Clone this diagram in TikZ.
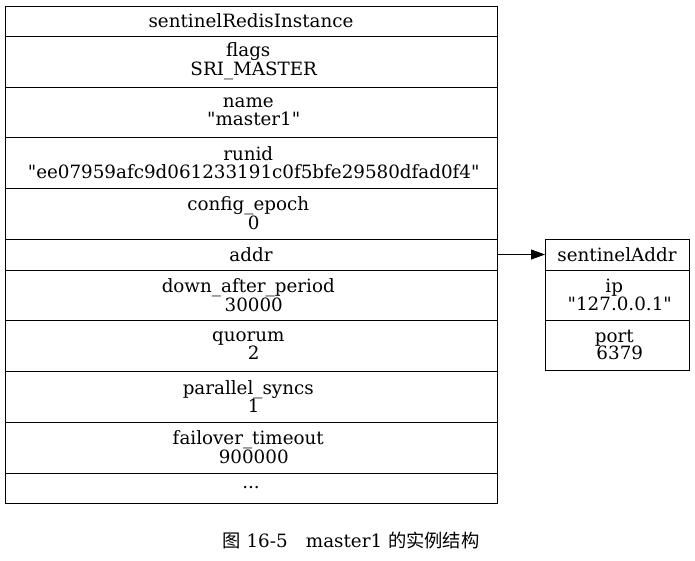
\documentclass[tikz,border=0pt]{standalone}
\usepackage{fontspec}
\setmainfont{DejaVu Serif}
\newfontfamily\cjk{Noto Sans CJK SC}
\usetikzlibrary{arrows.meta}
\newcommand\cellpair[2]{#1\kern5.5pt\\\kern5.5pt #2}
\newcommand\dq{\textquotedbl}
\tikzset{
  cell/.style={draw=black, line width=0.8pt, inner sep=0pt, outer sep=0pt, align=center,
    font=\fontsize{18.3}{17.6}\selectfont},
  lt/.style={cell, minimum width=492pt},
  rt/.style={cell, minimum width=144pt},
  link/.style={draw=black, line width=0.8pt, -{Triangle[length=14pt,width=10pt]}},
  captext/.style={font=\fontsize{18.3}{19}\selectfont}
}
\begin{document}
\begin{tikzpicture}[x=1pt,y=-1pt]
\useasboundingbox (0,0) rectangle (695,561);
% left record
\node[lt, minimum height=30pt, anchor=north west] (r0) at (5,6) {sentinelRedisInstance};
\node[lt, minimum height=51pt, anchor=north] (r1) at (r0.south) {\cellpair{flags}{SRI\_MASTER}};
\node[lt, minimum height=50pt, anchor=north] (r2) at (r1.south) {\cellpair{name}{\dq master1\dq}};
\node[lt, minimum height=51pt, anchor=north] (r3) at (r2.south) {\cellpair{runid}{\dq ee07959afc9d061233191c0f5bfe29580dfad0f4\dq}};
\node[lt, minimum height=51pt, anchor=north] (r4) at (r3.south) {\cellpair{config\_epoch}{0}};
\node[lt, minimum height=31pt, anchor=north] (r5) at (r4.south) {addr};
\node[lt, minimum height=50pt, anchor=north] (r6) at (r5.south) {\cellpair{down\_after\_period}{30000}};
\node[lt, minimum height=51pt, anchor=north] (r7) at (r6.south) {\cellpair{quorum}{2}};
\node[lt, minimum height=51pt, anchor=north] (r8) at (r7.south) {\cellpair{parallel\_syncs}{1}};
\node[lt, minimum height=51pt, anchor=north] (r9) at (r8.south) {\cellpair{failover\_timeout}{900000}};
\node[lt, minimum height=30pt, anchor=north] (r10) at (r9.south) {...};
% right record
\node[rt, minimum height=31pt, anchor=north west] (a0) at (545,239) {sentinelAddr};
\node[rt, minimum height=50pt, anchor=north] (a1) at (a0.south) {\cellpair{ip}{\dq 127.0.0.1\dq}};
\node[rt, minimum height=50pt, anchor=north] (a2) at (a1.south) {\cellpair{port}{6379}};
% connector
\draw[link] (r5.east) -- (a0.west);
% caption
\node[captext] (caption) at (351,540) {{\cjk 图} 16-5\quad master1 {\cjk 的实例结构}};
\end{tikzpicture}
\end{document}
